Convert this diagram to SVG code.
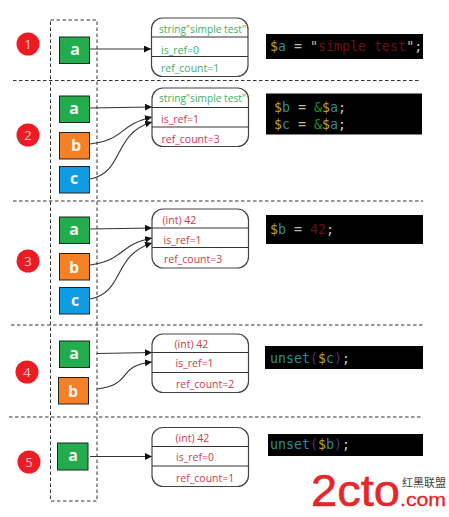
<svg xmlns="http://www.w3.org/2000/svg" width="449" height="517" viewBox="0 0 449 517">
<style>
.dash{fill:none;stroke:#333;stroke-width:1;stroke-dasharray:3.5 2.5}
.num{fill:#ed1c24}
.numt{font:13px "Open Sans","Liberation Sans",sans-serif;fill:#f6c8c8;text-anchor:middle}
.sq{stroke:#222;stroke-width:1}
.sqt{font:bold 16px "Open Sans","Liberation Sans",sans-serif;fill:#f4f4ec;text-anchor:middle}
.g{fill:#22ac4e}.o{fill:#f58025}.b{fill:#0f9ce2}
.rec{fill:#fff;stroke:#444;stroke-width:1.2}
.sep{stroke:#333;stroke-width:1}
.t{font:10.5px "Open Sans","Liberation Sans",sans-serif}
.gt{fill:#3fae68}.rt{fill:#cf3a50}
.con{fill:none;stroke:#333;stroke-width:1.1;marker-end:url(#arr)}
.code{font:13.3px "DejaVu Sans Mono","Liberation Mono",monospace;white-space:pre}
.y{fill:#b5a52a}.c{fill:#2b8c92}.w{fill:#c9c9c9}.r{fill:#6e0f14}.l{fill:#1f8f2a}.q{fill:#c9b89a}.p{fill:#5b2a78}
</style>
<defs>
<marker id="arr" markerUnits="userSpaceOnUse" markerWidth="8" markerHeight="8" refX="7" refY="3.5" orient="auto"><path d="M0 0L7 3.5L0 7z" fill="#111"/></marker>
</defs>
<rect width="449" height="517" fill="#fff"/>
<g id="separators">
<rect class="dash" x="50.5" y="20" width="46.5" height="481"/>
<path class="dash" d="M13 80.5H421M13 201H423M11 325H423M9 417H423"/>
</g>
<g id="connectors">
<path class="con" d="M90 49H151"/>
<path class="con" d="M90 108L152 107"/>
<path class="con" d="M90 144C125 140 118 125 152 117"/>
<path class="con" d="M90 179C125 172 112 134 152 122"/>
<path class="con" d="M90 229L152 228"/>
<path class="con" d="M90 265C125 260 118 245 152 238"/>
<path class="con" d="M90 299C125 292 112 256 152 243"/>
<path class="con" d="M97 353.500L152 352.500"/>
<path class="con" d="M97 389C135 384 115 366 152 362"/>
<path class="con" d="M90 456.500H152"/>
</g>
<g id="step1"><circle class="num" cx="28" cy="44" r="11.500"/><text class="numt" x="28" y="48.500">1</text></g>
<g id="step2"><circle class="num" cx="28" cy="135" r="11.500"/><text class="numt" x="28" y="139.500">2</text></g>
<g id="step3"><circle class="num" cx="28" cy="261" r="11.500"/><text class="numt" x="28" y="265.500">3</text></g>
<g id="step4"><circle class="num" cx="27" cy="372" r="11.500"/><text class="numt" x="27" y="376.500">4</text></g>
<g id="step5"><circle class="num" cx="29" cy="462" r="11.500"/><text class="numt" x="29" y="466.500">5</text></g>
<g id="a1"><rect class="sq g" x="59.500" y="37" width="30" height="26.500"/><text class="sqt" x="75" y="55">a</text></g>
<g id="a2"><rect class="sq g" x="59.500" y="96" width="30" height="26.500"/><text class="sqt" x="74" y="114">a</text></g>
<g id="b2"><rect class="sq o" x="59.500" y="132.500" width="30" height="26.500"/><text class="sqt" x="76" y="151">b</text></g>
<g id="c2"><rect class="sq b" x="59.500" y="166.500" width="30" height="26.500"/><text class="sqt" x="74" y="184">c</text></g>
<g id="a3"><rect class="sq g" x="59.500" y="217" width="30" height="26.500"/><text class="sqt" x="74" y="235">a</text></g>
<g id="b3"><rect class="sq o" x="59.500" y="253.500" width="30" height="26.500"/><text class="sqt" x="74" y="273">b</text></g>
<g id="c3"><rect class="sq b" x="59.500" y="287.500" width="30" height="26.500"/><text class="sqt" x="75" y="306">c</text></g>
<g id="a4"><rect class="sq g" x="59.500" y="341" width="30" height="26.500"/><text class="sqt" x="74" y="359">a</text></g>
<g id="b4"><rect class="sq o" x="58.500" y="377.500" width="30" height="26.500"/><text class="sqt" x="73" y="397">b</text></g>
<g id="a5"><rect class="sq g" x="57.500" y="443" width="30.500" height="27"/><text class="sqt" x="73" y="461">a</text></g>
<g id="rec1"><rect class="rec" x="151.500" y="18" width="96.500" height="58.500" rx="11"/><path class="sep" d="M151.500 37H248M151.500 56.500H248"/>
<text class="t gt" x="159" y="33" textLength="87" lengthAdjust="spacingAndGlyphs">string"simple test"</text><text class="t gt" x="161" y="54">is_ref=0</text><text class="t gt" x="161" y="72">ref_count=1</text></g>
<g id="rec2"><rect class="rec" x="152" y="88" width="96.500" height="58.500" rx="11"/><path class="sep" d="M152 107.500H248.500M152 127H248.500"/>
<text class="t gt" x="159" y="102" textLength="87" lengthAdjust="spacingAndGlyphs">string"simple test"</text><text class="t rt" x="161" y="123">is_ref=1</text><text class="t rt" x="161.500" y="143">ref_count=3</text></g>
<g id="rec3"><rect class="rec" x="152" y="209" width="96.500" height="59" rx="11"/><path class="sep" d="M152 228H248.500M152 247.500H248.500"/>
<text class="t rt" x="162.500" y="224">(int) 42</text><text class="t rt" x="163.500" y="243.500">is_ref=1</text><text class="t rt" x="164" y="263">ref_count=3</text></g>
<g id="rec4"><rect class="rec" x="152" y="334" width="96.500" height="58.500" rx="11"/><path class="sep" d="M152 352.500H248.500M152 372.500H248.500"/>
<text class="t rt" x="174.500" y="347.500">(int) 42</text><text class="t rt" x="175.500" y="367">is_ref=1</text><text class="t rt" x="176" y="387.500">ref_count=2</text></g>
<g id="rec5"><rect class="rec" x="152" y="427.500" width="96.500" height="59" rx="11"/><path class="sep" d="M152 446.500H248.500M152 466H248.500"/>
<text class="t rt" x="175.500" y="441.500">(int) 42</text><text class="t rt" x="176" y="461">is_ref=0</text><text class="t rt" x="176" y="482">ref_count=1</text></g>
<g id="code1"><rect x="266" y="34" width="157" height="25"/><text class="code" x="270" y="51"><tspan class="y">$</tspan><tspan class="c">a</tspan><tspan class="q"> = "</tspan><tspan class="r">simple test</tspan><tspan class="q">"</tspan><tspan class="w">;</tspan></text></g>
<g id="code2"><rect x="266" y="93.500" width="156" height="41"/><text class="code" x="274" y="112"><tspan class="y">$</tspan><tspan class="c">b</tspan><tspan class="q"> = </tspan><tspan class="l">&amp;</tspan><tspan class="y">$</tspan><tspan class="c">a</tspan><tspan class="w">;</tspan></text><text class="code" x="274" y="129"><tspan class="y">$</tspan><tspan class="c">c</tspan><tspan class="q"> = </tspan><tspan class="l">&amp;</tspan><tspan class="y">$</tspan><tspan class="c">a</tspan><tspan class="w">;</tspan></text></g>
<g id="code3"><rect x="266" y="215" width="157" height="29"/><text class="code" x="270" y="234"><tspan class="y">$</tspan><tspan class="c">b</tspan><tspan class="q"> = </tspan><tspan class="r">42</tspan><tspan class="w">;</tspan></text></g>
<g id="code4"><rect x="265" y="346" width="158" height="23"/><text class="code" x="270" y="363"><tspan class="c">unset</tspan><tspan class="p">(</tspan><tspan class="y">$</tspan><tspan class="c">c</tspan><tspan class="p">)</tspan><tspan class="w">;</tspan></text></g>
<g id="code5"><rect x="268" y="434" width="155" height="22"/><text class="code" x="270" y="449"><tspan class="c">unset</tspan><tspan class="p">(</tspan><tspan class="y">$</tspan><tspan class="c">b</tspan><tspan class="p">)</tspan><tspan class="w">;</tspan></text></g>
<g id="watermark">
<text x="311" y="506" font-family="'Liberation Sans',sans-serif" font-size="45" fill="#e5262a" stroke="#e5262a" stroke-width="0.6" textLength="89" lengthAdjust="spacingAndGlyphs">2cto</text>
<text x="402" y="487" font-family="'Noto Sans CJK SC',sans-serif" font-size="11" fill="#444">红黑联盟</text>
<text x="400" y="506" font-family="'Liberation Sans',sans-serif" font-size="18" fill="#e5262a" stroke="#e5262a" stroke-width="0.3" textLength="46" lengthAdjust="spacingAndGlyphs">.com</text>
</g>
</svg>
